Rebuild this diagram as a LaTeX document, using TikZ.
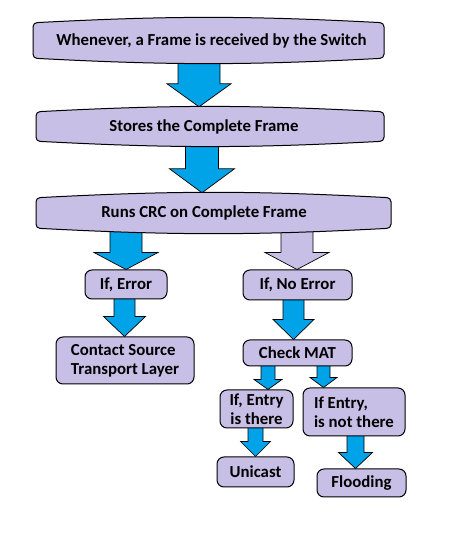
\documentclass[tikz,border=0pt]{standalone}
\usepackage{fontspec}
\setmainfont{Carlito}
\usetikzlibrary{calc}
\definecolor{lav}{RGB}{200,191,231}
\definecolor{arrblue}{RGB}{0,162,232}
\pgfdeclarelayer{bg}
\pgfdeclarelayer{mid}
\pgfsetlayers{bg,mid,main}
\newcommand\barrow[7]{%
  \path[#1] let \p1=(#2.south), \p2=(#3.north) in
  ({(#4-#5)*1pt},{\y1+6pt}) -- ({(#4+#5)*1pt},{\y1+6pt}) --
  ({(#4+#5)*1pt},{\y2+#7pt}) -- ({(#4+#6)*1pt},{\y2+#7pt}) --
  ({#4*1pt},\y2) -- ({(#4-#6)*1pt},{\y2+#7pt}) --
  ({(#4-#5)*1pt},{\y2+#7pt}) -- cycle;}
\newcommand\bulgebox[3]{%
  \draw[bigbox] let \p1=(#1.north), \p2=(#1.south) in
    (#2,{\y1-5pt}) to[bend left=3] (#3,{\y1-5pt})
    -- (#3,{\y2+5pt}) to[bend left=3] (#2,{\y2+5pt}) -- cycle;}
\begin{document}
\begin{tikzpicture}[x=1pt,y=1pt,
  txt/.style={font=\fontsize{16.8}{19}\selectfont\bfseries, text=black, inner sep=0pt},
  bigtext/.style={txt, draw=none},
  bigbox/.style={draw=black, line width=1pt, fill=lav, rounded corners=4pt},
  smallbox/.style={txt, draw=black, line width=1pt, fill=lav, rounded corners=7pt},
  barr/.style={draw=black, line width=0.7pt, fill=arrblue},
  larr/.style={draw=black, line width=0.7pt, fill=lav}]
\useasboundingbox (0,0) rectangle (459,544);
% big boxes (text nodes; shapes drawn below)
\node[bigtext, minimum height=45] (t1) at (211.5,503.5) {Whenever, a Frame is received by the Switch};
\node[bigtext, minimum height=39] (t2) at (204,417.5) {Stores the Complete Frame};
\node[bigtext, minimum height=40] (t3) at (204,331) {Runs CRC on Complete Frame};
% small boxes
\node[smallbox, minimum width=82, minimum height=29] (err) at (126,259.5) {If, Error};
\node[smallbox, minimum width=109, minimum height=30] (noerr) at (297.5,259) {If, No Error};
\node[smallbox, minimum width=138, minimum height=47, align=left] (contact) at (125,183.5) {Contact Source\\Transport Layer};
\node[smallbox, minimum width=109, minimum height=26] (mat) at (297.5,191) {Check MAT};
\node[smallbox, minimum width=73, minimum height=38, align=center] (entry) at (256.5,135) {If, Entry\\is there};
\node[smallbox, minimum width=102, minimum height=48, align=left] (noentry) at (354,132) {If Entry,\\is not there};
\node[smallbox, minimum width=77, minimum height=30] (unicast) at (255.5,72) {Unicast};
\node[smallbox, minimum width=89, minimum height=28] (flood) at (361.5,61) {Flooding};
\begin{pgfonlayer}{mid}
\bulgebox{t1}{33}{384}
\bulgebox{t2}{36}{384}
\bulgebox{t3}{36}{391}
\end{pgfonlayer}
\begin{pgfonlayer}{bg}
\barrow{barr}{t1}{t2}{199}{21}{32}{23}
\barrow{barr}{t2}{t3}{202}{16.5}{32.5}{24}
\barrow{barr}{t3}{err}{126}{16}{32}{17}
\barrow{larr}{t3}{noerr}{297}{16}{32}{17}
\barrow{barr}{err}{contact}{124.5}{10.5}{21}{20}
\barrow{barr}{noerr}{mat}{293.5}{10.5}{20.5}{20}
\barrow{barr}{mat}{entry}{268}{7}{14}{10}
\barrow{barr}{mat}{noentry}{323.5}{6.5}{13.5}{10}
\barrow{barr}{entry}{unicast}{255.5}{7.5}{15}{15}
\barrow{barr}{noentry}{flood}{355.5}{8.5}{17}{16}
\end{pgfonlayer}
\end{tikzpicture}
\end{document}
